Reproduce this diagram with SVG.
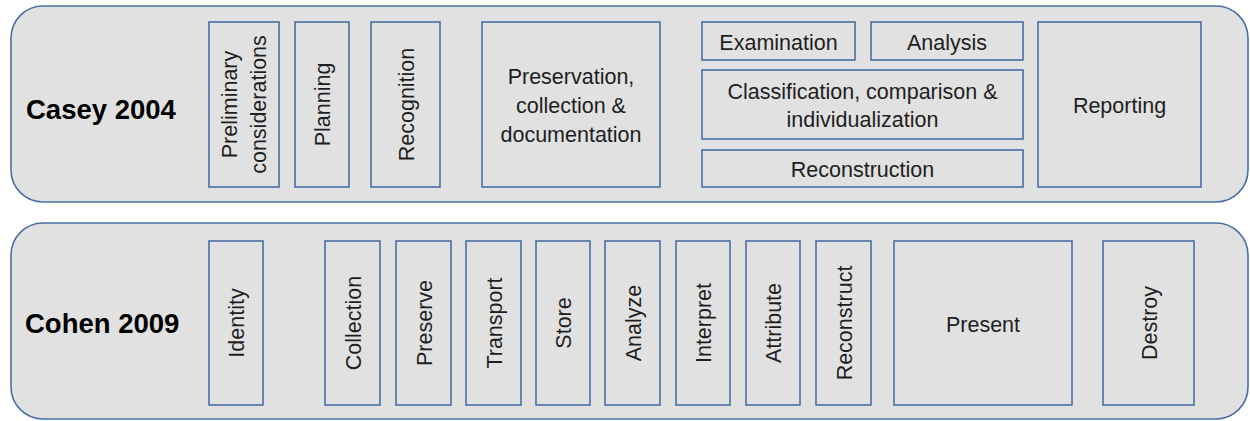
<svg xmlns="http://www.w3.org/2000/svg" width="1250" height="421" viewBox="0 0 1250 421">
  <style>
    .lane { fill: #e1e1e1; stroke: #4a6fa5; stroke-width: 1.6; }
    .step { fill: #e1e1e1; stroke: #4a6fa5; stroke-width: 1.6; }
    .title { font-family: "Liberation Sans", Arial, sans-serif; font-weight: bold; font-size: 27.5px; fill: #000; }
    .lbl { font-family: "Liberation Sans", Arial, sans-serif; font-size: 21.5px; fill: #1e1e1e; text-anchor: middle; }
  </style>
  <rect x="0" y="0" width="1250" height="421" fill="#ffffff"/>

  <!-- Casey 2004 lane -->
  <g id="lane-casey">
    <rect class="lane" x="11" y="6" width="1237" height="196" rx="32" ry="32"/>
    <text class="title" x="26" y="119">Casey 2004</text>
  </g>
  <g id="casey-preliminary">
    <rect class="step" x="209" y="22" width="70" height="165"/>
    <text class="lbl" transform="translate(244,104.5) rotate(-90)"><tspan x="0" y="-7">Preliminary</tspan><tspan x="0" y="22">considerations</tspan></text>
  </g>
  <g id="casey-planning">
    <rect class="step" x="295" y="22" width="54" height="165"/>
    <text class="lbl" transform="translate(322,104.5) rotate(-90)" x="0" y="8">Planning</text>
  </g>
  <g id="casey-recognition">
    <rect class="step" x="371" y="22" width="69" height="165"/>
    <text class="lbl" transform="translate(405.5,104.5) rotate(-90)" x="0" y="8">Recognition</text>
  </g>
  <g id="casey-preservation">
    <rect class="step" x="482" y="22" width="178" height="165"/>
    <text class="lbl"><tspan x="571" y="84">Preservation,</tspan><tspan x="571" y="113">collection &amp;</tspan><tspan x="571" y="142">documentation</tspan></text>
  </g>
  <g id="casey-examination">
    <rect class="step" x="702" y="22" width="153" height="38"/>
    <text class="lbl" x="778.5" y="49.5">Examination</text>
  </g>
  <g id="casey-analysis">
    <rect class="step" x="871" y="22" width="152" height="38"/>
    <text class="lbl" x="947" y="49.5">Analysis</text>
  </g>
  <g id="casey-classification">
    <rect class="step" x="702" y="70" width="321" height="69"/>
    <text class="lbl"><tspan x="862.5" y="98.5">Classification, comparison &amp;</tspan><tspan x="862.5" y="127">individualization</tspan></text>
  </g>
  <g id="casey-reconstruction">
    <rect class="step" x="702" y="150" width="321" height="37"/>
    <text class="lbl" x="862.5" y="177">Reconstruction</text>
  </g>
  <g id="casey-reporting">
    <rect class="step" x="1038" y="22" width="163" height="165"/>
    <text class="lbl" x="1119.5" y="113">Reporting</text>
  </g>

  <!-- Cohen 2009 lane -->
  <g id="lane-cohen">
    <rect class="lane" x="11" y="223" width="1237" height="196" rx="32" ry="32"/>
    <text class="title" x="25" y="333">Cohen 2009</text>
  </g>
  <g id="cohen-identity">
    <rect class="step" x="209" y="241" width="54" height="164"/>
    <text class="lbl" transform="translate(236,323) rotate(-90)" x="0" y="8">Identity</text>
  </g>
  <g id="cohen-collection">
    <rect class="step" x="325" y="241" width="55" height="164"/>
    <text class="lbl" transform="translate(352.5,323) rotate(-90)" x="0" y="8">Collection</text>
  </g>
  <g id="cohen-preserve">
    <rect class="step" x="396" y="241" width="55" height="164"/>
    <text class="lbl" transform="translate(423.5,323) rotate(-90)" x="0" y="8">Preserve</text>
  </g>
  <g id="cohen-transport">
    <rect class="step" x="466" y="241" width="55" height="164"/>
    <text class="lbl" transform="translate(493.5,323) rotate(-90)" x="0" y="8">Transport</text>
  </g>
  <g id="cohen-store">
    <rect class="step" x="536" y="241" width="54" height="164"/>
    <text class="lbl" transform="translate(563,323) rotate(-90)" x="0" y="8">Store</text>
  </g>
  <g id="cohen-analyze">
    <rect class="step" x="605" y="241" width="55" height="164"/>
    <text class="lbl" transform="translate(632.5,323) rotate(-90)" x="0" y="8">Analyze</text>
  </g>
  <g id="cohen-interpret">
    <rect class="step" x="676" y="241" width="54" height="164"/>
    <text class="lbl" transform="translate(703,323) rotate(-90)" x="0" y="8">Interpret</text>
  </g>
  <g id="cohen-attribute">
    <rect class="step" x="746" y="241" width="54" height="164"/>
    <text class="lbl" transform="translate(773,323) rotate(-90)" x="0" y="8">Attribute</text>
  </g>
  <g id="cohen-reconstruct">
    <rect class="step" x="816" y="241" width="55" height="164"/>
    <text class="lbl" transform="translate(843.5,323) rotate(-90)" x="0" y="8">Reconstruct</text>
  </g>
  <g id="cohen-present">
    <rect class="step" x="894" y="241" width="178" height="164"/>
    <text class="lbl" x="983" y="331.5">Present</text>
  </g>
  <g id="cohen-destroy">
    <rect class="step" x="1103" y="241" width="91" height="164"/>
    <text class="lbl" transform="translate(1148.5,323) rotate(-90)" x="0" y="8">Destroy</text>
  </g>
</svg>
